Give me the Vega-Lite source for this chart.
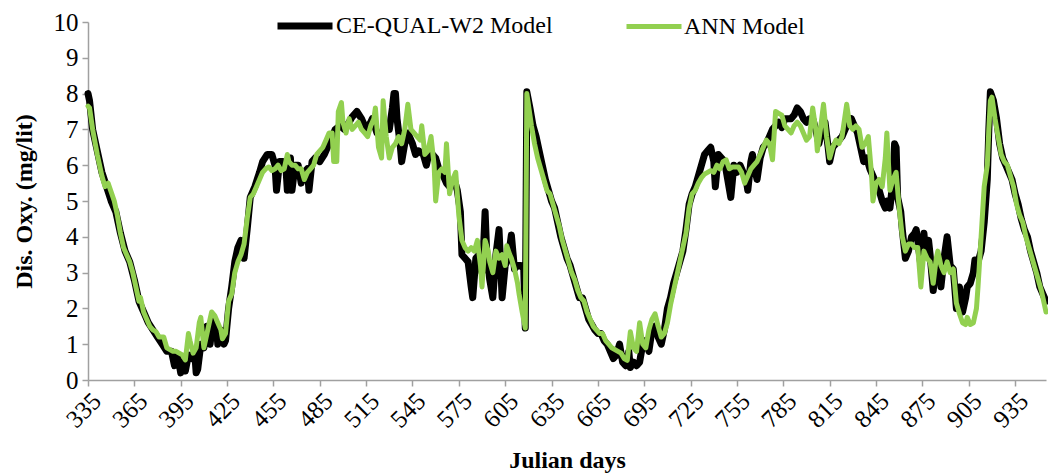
{
  "$schema": "https://vega.github.io/schema/vega-lite/v6.json",
  "width": 958,
  "height": 358,
  "autosize": {"type": "none"},
  "padding": {"left": 88, "top": 22, "right": 2, "bottom": 94},
  "background": "white",
  "config": {
    "view": {"stroke": null},
    "font": "Liberation Serif"
  },
  "datasets": {
    "w2": [
      {"day":335,"do":8.0},{"day":336,"do":7.8},{"day":338,"do":7.0},{"day":341,"do":6.4},{"day":344,"do":5.8},{"day":347,"do":5.4},{"day":350,"do":5.0},{"day":353,"do":4.7},{"day":356,"do":4.1},{"day":359,"do":3.6},{"day":362,"do":3.3},{"day":365,"do":2.8},{"day":368,"do":2.2},{"day":371,"do":1.9},{"day":374,"do":1.6},{"day":377,"do":1.4},{"day":380,"do":1.2},{"day":383,"do":1.0},{"day":386,"do":0.8},{"day":389,"do":0.8},{"day":391,"do":0.4},{"day":393,"do":0.7},{"day":395,"do":0.2},{"day":397,"do":0.5},{"day":398,"do":0.25},{"day":400,"do":0.7},{"day":402,"do":0.6},{"day":404,"do":0.8},{"day":405,"do":0.2},{"day":406,"do":0.3},{"day":408,"do":1.0},{"day":410,"do":0.9},{"day":412,"do":1.5},{"day":414,"do":1.0},{"day":416,"do":1.7},{"day":418,"do":1.5},{"day":419,"do":1.0},{"day":421,"do":1.4},{"day":423,"do":1.0},{"day":424,"do":1.1},{"day":426,"do":2.0},{"day":428,"do":2.6},{"day":430,"do":3.3},{"day":432,"do":3.7},{"day":434,"do":3.9},{"day":436,"do":3.4},{"day":438,"do":4.2},{"day":440,"do":5.1},{"day":443,"do":5.4},{"day":446,"do":5.8},{"day":448,"do":6.1},{"day":451,"do":6.3},{"day":454,"do":6.3},{"day":456,"do":6.0},{"day":457,"do":5.3},{"day":459,"do":6.1},{"day":461,"do":6.1},{"day":463,"do":6.0},{"day":464,"do":5.3},{"day":466,"do":6.2},{"day":467,"do":5.3},{"day":469,"do":6.0},{"day":471,"do":6.0},{"day":473,"do":5.5},{"day":475,"do":5.8},{"day":477,"do":5.9},{"day":478,"do":5.3},{"day":480,"do":6.1},{"day":482,"do":6.2},{"day":485,"do":6.1},{"day":488,"do":6.3},{"day":491,"do":6.6},{"day":493,"do":6.8},{"day":495,"do":7.0},{"day":498,"do":7.1},{"day":501,"do":7.0},{"day":504,"do":7.2},{"day":506,"do":7.35},{"day":509,"do":7.5},{"day":512,"do":7.3},{"day":515,"do":7.0},{"day":518,"do":7.2},{"day":519,"do":7.3},{"day":522,"do":6.9},{"day":525,"do":6.8},{"day":528,"do":7.0},{"day":530,"do":7.0},{"day":532,"do":7.6},{"day":533,"do":8.0},{"day":534,"do":8.0},{"day":535,"do":7.3},{"day":537,"do":6.6},{"day":538,"do":6.1},{"day":540,"do":6.6},{"day":542,"do":6.9},{"day":545,"do":6.6},{"day":547,"do":6.3},{"day":549,"do":6.4},{"day":552,"do":6.3},{"day":554,"do":6.0},{"day":556,"do":6.4},{"day":558,"do":6.3},{"day":560,"do":6.2},{"day":562,"do":5.9},{"day":564,"do":5.8},{"day":567,"do":5.5},{"day":569,"do":5.4},{"day":572,"do":5.6},{"day":574,"do":5.3},{"day":576,"do":4.7},{"day":577,"do":3.5},{"day":579,"do":3.4},{"day":581,"do":3.3},{"day":583,"do":2.6},{"day":584,"do":2.3},{"day":586,"do":3.4},{"day":588,"do":3.5},{"day":590,"do":3.0},{"day":591,"do":3.7},{"day":592,"do":4.7},{"day":593,"do":3.6},{"day":595,"do":2.8},{"day":597,"do":2.3},{"day":599,"do":3.5},{"day":601,"do":4.2},{"day":602,"do":3.3},{"day":603,"do":2.3},{"day":605,"do":3.2},{"day":607,"do":3.4},{"day":609,"do":4.05},{"day":611,"do":3.1},{"day":613,"do":3.2},{"day":615,"do":3.2},{"day":617,"do":3.1},{"day":618,"do":1.45},{"day":619,"do":8.05},{"day":621,"do":7.6},{"day":623,"do":7.1},{"day":625,"do":6.8},{"day":627,"do":6.4},{"day":629,"do":6.0},{"day":631,"do":5.6},{"day":633,"do":5.3},{"day":635,"do":5.0},{"day":637,"do":4.8},{"day":639,"do":4.4},{"day":641,"do":4.0},{"day":643,"do":3.7},{"day":645,"do":3.4},{"day":647,"do":3.2},{"day":649,"do":2.9},{"day":651,"do":2.6},{"day":653,"do":2.3},{"day":655,"do":2.3},{"day":657,"do":2.0},{"day":659,"do":1.7},{"day":661,"do":1.55},{"day":663,"do":1.4},{"day":665,"do":1.3},{"day":667,"do":1.3},{"day":669,"do":1.1},{"day":671,"do":1.0},{"day":673,"do":0.8},{"day":675,"do":0.6},{"day":677,"do":0.7},{"day":679,"do":1.0},{"day":681,"do":0.5},{"day":683,"do":0.4},{"day":685,"do":0.8},{"day":686,"do":0.35},{"day":688,"do":0.5},{"day":690,"do":0.4},{"day":692,"do":0.5},{"day":694,"do":1.0},{"day":696,"do":1.1},{"day":698,"do":0.8},{"day":700,"do":1.4},{"day":702,"do":1.5},{"day":704,"do":1.2},{"day":706,"do":1.0},{"day":708,"do":1.4},{"day":710,"do":2.0},{"day":712,"do":2.3},{"day":714,"do":2.7},{"day":716,"do":3.0},{"day":718,"do":3.3},{"day":720,"do":3.6},{"day":722,"do":4.2},{"day":724,"do":4.9},{"day":726,"do":5.2},{"day":728,"do":5.4},{"day":730,"do":5.7},{"day":732,"do":6.0},{"day":734,"do":6.3},{"day":736,"do":6.4},{"day":738,"do":6.5},{"day":740,"do":6.1},{"day":741,"do":5.4},{"day":743,"do":6.3},{"day":745,"do":6.2},{"day":747,"do":6.1},{"day":749,"do":5.6},{"day":751,"do":5.1},{"day":753,"do":6.0},{"day":755,"do":5.8},{"day":757,"do":6.0},{"day":759,"do":5.8},{"day":761,"do":5.6},{"day":762,"do":5.3},{"day":764,"do":6.1},{"day":765,"do":6.3},{"day":767,"do":5.8},{"day":768,"do":5.6},{"day":770,"do":6.2},{"day":772,"do":6.5},{"day":774,"do":6.6},{"day":776,"do":6.8},{"day":778,"do":7.0},{"day":780,"do":7.1},{"day":782,"do":7.2},{"day":784,"do":7.05},{"day":786,"do":7.3},{"day":788,"do":7.3},{"day":790,"do":7.3},{"day":792,"do":7.4},{"day":794,"do":7.6},{"day":796,"do":7.5},{"day":798,"do":7.3},{"day":800,"do":7.2},{"day":802,"do":7.3},{"day":804,"do":7.3},{"day":806,"do":7.0},{"day":808,"do":6.6},{"day":810,"do":7.0},{"day":812,"do":7.2},{"day":814,"do":6.5},{"day":815,"do":6.1},{"day":817,"do":6.5},{"day":819,"do":6.6},{"day":821,"do":6.7},{"day":823,"do":6.8},{"day":825,"do":7.0},{"day":827,"do":7.2},{"day":829,"do":7.3},{"day":831,"do":7.1},{"day":833,"do":6.9},{"day":835,"do":6.5},{"day":837,"do":6.1},{"day":839,"do":6.2},{"day":841,"do":5.9},{"day":843,"do":5.7},{"day":845,"do":5.5},{"day":847,"do":5.3},{"day":849,"do":5.0},{"day":851,"do":4.8},{"day":852,"do":5.0},{"day":854,"do":4.8},{"day":856,"do":5.6},{"day":857,"do":6.6},{"day":858,"do":6.5},{"day":859,"do":5.1},{"day":861,"do":4.7},{"day":862,"do":4.2},{"day":864,"do":3.4},{"day":866,"do":3.6},{"day":868,"do":4.0},{"day":870,"do":4.1},{"day":871,"do":4.2},{"day":872,"do":3.9},{"day":874,"do":3.2},{"day":876,"do":4.1},{"day":877,"do":3.6},{"day":879,"do":3.9},{"day":880,"do":3.5},{"day":882,"do":2.5},{"day":884,"do":3.3},{"day":886,"do":3.4},{"day":887,"do":2.6},{"day":889,"do":3.4},{"day":891,"do":4.0},{"day":893,"do":3.2},{"day":895,"do":3.1},{"day":897,"do":2.0},{"day":899,"do":2.6},{"day":901,"do":1.9},{"day":903,"do":2.3},{"day":904,"do":2.6},{"day":906,"do":2.7},{"day":908,"do":3.0},{"day":909,"do":3.35},{"day":911,"do":3.3},{"day":913,"do":3.6},{"day":915,"do":4.4},{"day":916,"do":5.0},{"day":917,"do":5.6},{"day":918,"do":7.0},{"day":919,"do":8.05},{"day":921,"do":7.8},{"day":923,"do":7.3},{"day":925,"do":6.6},{"day":927,"do":6.2},{"day":929,"do":6.0},{"day":931,"do":5.8},{"day":933,"do":5.6},{"day":935,"do":5.2},{"day":937,"do":4.9},{"day":939,"do":4.5},{"day":941,"do":4.2},{"day":943,"do":4.0},{"day":945,"do":3.6},{"day":947,"do":3.3},{"day":949,"do":3.0},{"day":951,"do":2.6},{"day":953,"do":2.4},{"day":955,"do":2.2}
    ],
    "ann": [
      {"day":335,"do":7.65},{"day":336,"do":7.6},{"day":338,"do":7.0},{"day":341,"do":6.3},{"day":344,"do":5.7},{"day":346,"do":5.4},{"day":348,"do":5.5},{"day":350,"do":5.25},{"day":352,"do":5.0},{"day":354,"do":4.6},{"day":356,"do":4.1},{"day":358,"do":3.7},{"day":360,"do":3.5},{"day":362,"do":3.3},{"day":364,"do":3.0},{"day":366,"do":2.6},{"day":368,"do":2.2},{"day":369,"do":2.3},{"day":371,"do":1.9},{"day":373,"do":1.7},{"day":375,"do":1.5},{"day":377,"do":1.4},{"day":379,"do":1.35},{"day":381,"do":1.2},{"day":383,"do":1.2},{"day":384,"do":1.2},{"day":386,"do":0.9},{"day":388,"do":0.85},{"day":390,"do":0.8},{"day":392,"do":0.8},{"day":394,"do":0.75},{"day":396,"do":0.7},{"day":398,"do":0.56},{"day":400,"do":1.3},{"day":401,"do":1.1},{"day":403,"do":0.75},{"day":405,"do":0.9},{"day":407,"do":1.6},{"day":408,"do":1.75},{"day":410,"do":0.9},{"day":412,"do":1.3},{"day":414,"do":1.7},{"day":415,"do":1.9},{"day":417,"do":1.8},{"day":419,"do":1.6},{"day":421,"do":1.4},{"day":422,"do":1.15},{"day":424,"do":1.3},{"day":426,"do":2.2},{"day":428,"do":2.4},{"day":430,"do":3.0},{"day":432,"do":3.3},{"day":434,"do":3.5},{"day":436,"do":3.8},{"day":438,"do":4.5},{"day":440,"do":5.1},{"day":442,"do":5.2},{"day":444,"do":5.4},{"day":446,"do":5.6},{"day":448,"do":5.8},{"day":450,"do":5.9},{"day":452,"do":5.95},{"day":454,"do":5.85},{"day":456,"do":5.9},{"day":458,"do":6.0},{"day":460,"do":5.85},{"day":462,"do":5.9},{"day":464,"do":6.3},{"day":465,"do":6.1},{"day":467,"do":6.0},{"day":469,"do":6.0},{"day":471,"do":5.9},{"day":473,"do":5.9},{"day":475,"do":5.6},{"day":477,"do":5.8},{"day":479,"do":5.9},{"day":481,"do":6.0},{"day":483,"do":6.3},{"day":485,"do":6.4},{"day":487,"do":6.5},{"day":489,"do":6.7},{"day":491,"do":6.9},{"day":493,"do":6.9},{"day":494,"do":6.1},{"day":496,"do":6.1},{"day":497,"do":7.5},{"day":499,"do":7.75},{"day":500,"do":7.2},{"day":502,"do":6.9},{"day":504,"do":7.3},{"day":506,"do":7.0},{"day":508,"do":7.1},{"day":510,"do":7.2},{"day":512,"do":7.0},{"day":514,"do":6.9},{"day":516,"do":6.8},{"day":518,"do":7.1},{"day":520,"do":7.3},{"day":521,"do":7.6},{"day":523,"do":6.5},{"day":525,"do":6.2},{"day":526,"do":7.8},{"day":528,"do":6.8},{"day":530,"do":6.2},{"day":532,"do":6.5},{"day":534,"do":6.6},{"day":536,"do":6.8},{"day":538,"do":6.6},{"day":540,"do":7.0},{"day":542,"do":7.7},{"day":544,"do":7.0},{"day":546,"do":6.9},{"day":548,"do":6.8},{"day":550,"do":6.7},{"day":551,"do":7.1},{"day":553,"do":6.3},{"day":555,"do":6.4},{"day":557,"do":6.8},{"day":559,"do":6.0},{"day":560,"do":5.0},{"day":562,"do":5.8},{"day":564,"do":5.9},{"day":566,"do":5.8},{"day":567,"do":6.6},{"day":569,"do":5.2},{"day":571,"do":5.6},{"day":573,"do":5.8},{"day":575,"do":4.6},{"day":577,"do":3.9},{"day":579,"do":3.7},{"day":581,"do":3.6},{"day":583,"do":3.7},{"day":585,"do":3.6},{"day":587,"do":3.9},{"day":589,"do":3.2},{"day":590,"do":2.6},{"day":592,"do":3.9},{"day":594,"do":3.6},{"day":595,"do":3.3},{"day":597,"do":3.0},{"day":599,"do":3.6},{"day":601,"do":3.4},{"day":603,"do":3.5},{"day":605,"do":3.2},{"day":606,"do":3.75},{"day":608,"do":3.5},{"day":609,"do":3.4},{"day":611,"do":3.1},{"day":613,"do":2.7},{"day":614,"do":2.4},{"day":616,"do":1.9},{"day":618,"do":1.45},{"day":619,"do":8.0},{"day":620,"do":7.7},{"day":622,"do":7.1},{"day":624,"do":6.6},{"day":626,"do":6.2},{"day":628,"do":5.9},{"day":630,"do":5.6},{"day":632,"do":5.3},{"day":634,"do":5.2},{"day":636,"do":4.9},{"day":638,"do":4.6},{"day":640,"do":4.3},{"day":642,"do":3.9},{"day":644,"do":3.6},{"day":646,"do":3.3},{"day":648,"do":3.0},{"day":650,"do":2.8},{"day":652,"do":2.5},{"day":654,"do":2.3},{"day":656,"do":2.2},{"day":658,"do":1.9},{"day":660,"do":1.7},{"day":662,"do":1.5},{"day":664,"do":1.4},{"day":666,"do":1.3},{"day":668,"do":1.3},{"day":670,"do":1.1},{"day":672,"do":1.0},{"day":674,"do":0.9},{"day":676,"do":0.85},{"day":678,"do":0.8},{"day":680,"do":0.75},{"day":682,"do":0.6},{"day":684,"do":0.55},{"day":686,"do":1.35},{"day":688,"do":0.9},{"day":690,"do":0.8},{"day":692,"do":1.6},{"day":694,"do":1.0},{"day":696,"do":0.9},{"day":698,"do":1.4},{"day":700,"do":1.7},{"day":702,"do":1.85},{"day":704,"do":1.5},{"day":706,"do":1.2},{"day":708,"do":1.3},{"day":710,"do":1.6},{"day":712,"do":2.1},{"day":714,"do":2.5},{"day":716,"do":2.9},{"day":718,"do":3.3},{"day":720,"do":3.7},{"day":722,"do":4.1},{"day":724,"do":4.8},{"day":726,"do":5.2},{"day":728,"do":5.3},{"day":730,"do":5.5},{"day":732,"do":5.65},{"day":734,"do":5.75},{"day":736,"do":5.8},{"day":738,"do":5.85},{"day":740,"do":5.8},{"day":742,"do":6.0},{"day":744,"do":5.9},{"day":746,"do":6.1},{"day":748,"do":6.15},{"day":750,"do":5.9},{"day":752,"do":5.95},{"day":754,"do":5.95},{"day":756,"do":5.95},{"day":758,"do":5.8},{"day":760,"do":5.5},{"day":762,"do":5.7},{"day":764,"do":5.9},{"day":766,"do":6.0},{"day":768,"do":6.1},{"day":770,"do":6.3},{"day":772,"do":6.5},{"day":774,"do":6.7},{"day":776,"do":6.6},{"day":778,"do":6.15},{"day":780,"do":7.5},{"day":782,"do":7.45},{"day":784,"do":7.4},{"day":786,"do":7.1},{"day":788,"do":7.0},{"day":790,"do":6.9},{"day":792,"do":7.1},{"day":794,"do":7.2},{"day":796,"do":7.1},{"day":798,"do":6.9},{"day":800,"do":6.7},{"day":802,"do":6.8},{"day":804,"do":7.6},{"day":806,"do":7.0},{"day":807,"do":6.4},{"day":809,"do":7.0},{"day":811,"do":7.7},{"day":813,"do":6.8},{"day":815,"do":6.2},{"day":817,"do":6.5},{"day":819,"do":6.7},{"day":821,"do":6.6},{"day":823,"do":6.8},{"day":826,"do":7.7},{"day":828,"do":7.1},{"day":830,"do":7.0},{"day":832,"do":7.1},{"day":834,"do":7.0},{"day":836,"do":6.5},{"day":838,"do":6.6},{"day":840,"do":6.8},{"day":842,"do":5.8},{"day":843,"do":5.0},{"day":845,"do":5.5},{"day":847,"do":5.6},{"day":849,"do":5.4},{"day":851,"do":6.2},{"day":852,"do":6.9},{"day":854,"do":5.3},{"day":856,"do":5.6},{"day":858,"do":5.8},{"day":860,"do":4.8},{"day":862,"do":4.0},{"day":864,"do":3.6},{"day":866,"do":3.8},{"day":868,"do":3.8},{"day":870,"do":3.7},{"day":872,"do":3.7},{"day":874,"do":2.6},{"day":876,"do":3.6},{"day":878,"do":3.4},{"day":880,"do":3.3},{"day":882,"do":2.7},{"day":884,"do":3.4},{"day":885,"do":3.6},{"day":887,"do":3.2},{"day":889,"do":3.0},{"day":891,"do":3.3},{"day":893,"do":3.0},{"day":895,"do":3.1},{"day":897,"do":2.15},{"day":899,"do":1.85},{"day":901,"do":1.6},{"day":903,"do":1.55},{"day":904,"do":1.75},{"day":906,"do":1.55},{"day":908,"do":1.6},{"day":910,"do":2.0},{"day":911,"do":2.6},{"day":913,"do":4.0},{"day":915,"do":5.4},{"day":917,"do":6.0},{"day":918,"do":7.0},{"day":919,"do":7.8},{"day":920,"do":7.9},{"day":922,"do":7.3},{"day":924,"do":6.8},{"day":926,"do":6.3},{"day":928,"do":6.1},{"day":930,"do":6.0},{"day":932,"do":5.7},{"day":934,"do":5.4},{"day":936,"do":4.9},{"day":938,"do":4.6},{"day":940,"do":4.4},{"day":942,"do":4.0},{"day":944,"do":3.7},{"day":946,"do":3.4},{"day":948,"do":3.1},{"day":950,"do":2.8},{"day":952,"do":2.5},{"day":954,"do":2.1},{"day":955,"do":1.9}
    ]
  },
  "encoding": {
    "x": {
      "field": "day", "type": "quantitative",
      "scale": {"domain": [335, 955], "nice": false, "zero": false},
      "axis": {
        "values": [335,365,395,425,455,485,515,545,575,605,635,665,695,725,755,785,815,845,875,905,935],
        "title": "Julian days", "titleFont": "Liberation Serif", "titleFontSize": 24, "titleFontWeight": "bold", "titleColor": "black",
        "titleX": 479, "titleY": 87, "titleBaseline": "alphabetic", "titleAlign": "center",
        "labelAngle": -45, "labelFont": "Liberation Serif", "labelFontSize": 25, "labelColor": "black", "labelPadding": 2,
        "domainColor": "#a0a0a0", "domainWidth": 1.5, "tickColor": "#a0a0a0", "tickSize": 6, "tickWidth": 1.5,
        "grid": false, "labelOverlap": false, "labelFlush": false
      }
    },
    "y": {
      "field": "do", "type": "quantitative",
      "scale": {"domain": [0, 10], "nice": false},
      "axis": {
        "values": [0,1,2,3,4,5,6,7,8,9,10],
        "title": "Dis. Oxy. (mg/lit)", "titleFont": "Liberation Serif", "titleFontSize": 24, "titleFontWeight": "bold", "titleColor": "black",
        "titleX": -57, "titleY": 179, "titleAngle": -90, "titleBaseline": "alphabetic", "titleAlign": "center",
        "labelFont": "Liberation Serif", "labelFontSize": 25, "labelColor": "black", "labelPadding": 4,
        "domainColor": "#a0a0a0", "domainWidth": 1.5, "tickColor": "#a0a0a0", "tickSize": 6, "tickWidth": 1.5,
        "grid": false, "labelFlush": false
      }
    }
  },
  "layer": [
    {
      "data": {"name": "w2"},
      "mark": {"type": "line", "strokeCap": "round", "strokeJoin": "round"},
      "encoding": {
        "color": {"datum": "CE-QUAL-W2 Model", "type": "nominal",
          "scale": {"domain": ["CE-QUAL-W2 Model", "ANN Model"], "range": ["#000000", "#92d050"]},
          "legend": {"title": null, "orient": "none", "legendX": 186, "legendY": -27, "direction": "horizontal",
            "symbolType": "stroke", "symbolSize": 3025, "labelFont": "Liberation Serif", "labelFontSize": 24, "labelColor": "black",
            "labelOffset": 0, "labelLimit": 400, "columnPadding": 63, "padding": 0}},
        "strokeWidth": {"datum": "CE-QUAL-W2 Model", "type": "nominal",
          "scale": {"domain": ["CE-QUAL-W2 Model", "ANN Model"], "range": [7, 5]},
          "legend": {"title": null, "orient": "none", "legendX": 186, "legendY": -27, "direction": "horizontal",
            "symbolType": "stroke", "symbolSize": 3025, "labelFont": "Liberation Serif", "labelFontSize": 24, "labelColor": "black",
            "labelOffset": 0, "labelLimit": 400, "columnPadding": 63, "padding": 0}}
      }
    },
    {
      "data": {"name": "ann"},
      "mark": {"type": "line", "strokeCap": "round", "strokeJoin": "round"},
      "encoding": {
        "color": {"datum": "ANN Model", "type": "nominal"},
        "strokeWidth": {"datum": "ANN Model", "type": "nominal"}
      }
    }
  ]
}
